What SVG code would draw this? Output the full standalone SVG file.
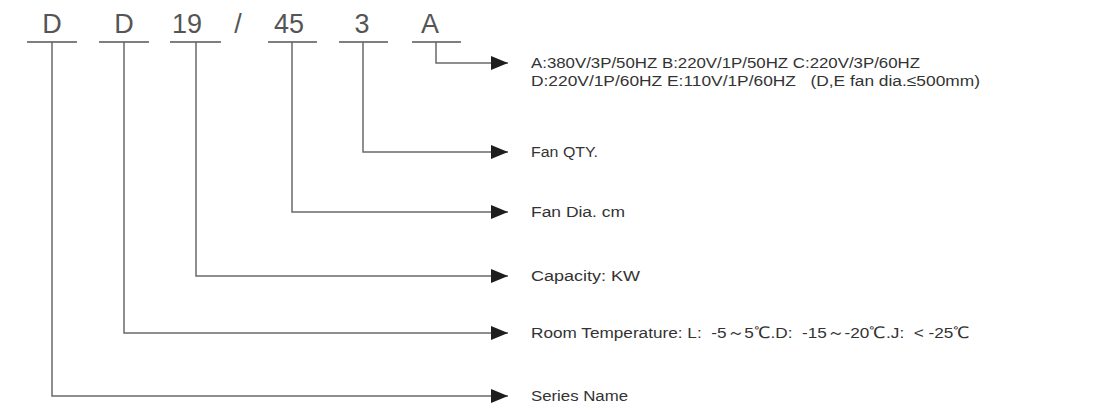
<svg xmlns="http://www.w3.org/2000/svg" width="1118" height="412" viewBox="0 0 1118 412">
<defs>
<style>
.code{font-family:"Liberation Sans",Arial,sans-serif;font-size:27px;fill:#555;text-anchor:middle}
.lbl{font-family:"Liberation Sans",Arial,sans-serif;font-size:15.5px;fill:#333;white-space:pre}
.ln{fill:none;stroke:#6a6a6a;stroke-width:1.5}
.ul{stroke:#555;stroke-width:1.5}
</style>
<marker id="ah" markerWidth="17" markerHeight="14" refX="17" refY="7" markerUnits="userSpaceOnUse" orient="auto">
<path d="M0,0 L17,7 L0,14 Z" fill="#1e1e1e"/>
</marker>
</defs>
<rect width="1118" height="412" fill="#fff"/>
<g id="n-series">
<text class="code" x="52" y="33">D</text>
<line class="ul" x1="27" y1="42" x2="77" y2="42"/>
</g>
<g id="n-room">
<text class="code" x="124" y="33">D</text>
<line class="ul" x1="99" y1="42" x2="149" y2="42"/>
</g>
<g id="n-capacity">
<text class="code" x="187" y="33">19</text>
<line class="ul" x1="170" y1="42" x2="221" y2="42"/>
</g>
<g id="n-slash">
<text class="code" x="238" y="33">/</text>
</g>
<g id="n-fandia">
<text class="code" x="289" y="33">45</text>
<line class="ul" x1="268" y1="42" x2="317" y2="42"/>
</g>
<g id="n-fanqty">
<text class="code" x="362" y="33">3</text>
<line class="ul" x1="339" y1="42" x2="388" y2="42"/>
</g>
<g id="n-power">
<text class="code" x="430" y="33">A</text>
<line class="ul" x1="412" y1="42" x2="461" y2="42"/>
</g>
<g id="connectors">
<polyline class="ln" points="436,42 436,63 508,63" marker-end="url(#ah)"/>
<polyline class="ln" points="363,42 363,152 508,152" marker-end="url(#ah)"/>
<polyline class="ln" points="292,42 292,212 508,212" marker-end="url(#ah)"/>
<polyline class="ln" points="196,42 196,276 508,276" marker-end="url(#ah)"/>
<polyline class="ln" points="124,42 124,333 508,333" marker-end="url(#ah)"/>
<polyline class="ln" points="52,42 52,396 508,396" marker-end="url(#ah)"/>
</g>
<g id="labels">
<text class="lbl" x="531" y="68" textLength="389" lengthAdjust="spacingAndGlyphs">A:380V/3P/50HZ B:220V/1P/50HZ C:220V/3P/60HZ</text>
<text class="lbl" x="531" y="86" textLength="449" lengthAdjust="spacingAndGlyphs">D:220V/1P/60HZ E:110V/1P/60HZ   (D,E fan dia.≤500mm)</text>
<text class="lbl" x="531" y="157" textLength="67" lengthAdjust="spacingAndGlyphs">Fan QTY.</text>
<text class="lbl" x="531" y="217" textLength="94" lengthAdjust="spacingAndGlyphs">Fan Dia. cm</text>
<text class="lbl" x="531" y="281" textLength="109" lengthAdjust="spacingAndGlyphs">Capacity: KW</text>
<text class="lbl" x="531" y="338" textLength="439" lengthAdjust="spacingAndGlyphs">Room Temperature: L:  -5～5℃.D:  -15～-20℃.J:  &lt; -25℃</text>
<text class="lbl" x="531" y="401" textLength="97" lengthAdjust="spacingAndGlyphs">Series Name</text>
</g>
</svg>
